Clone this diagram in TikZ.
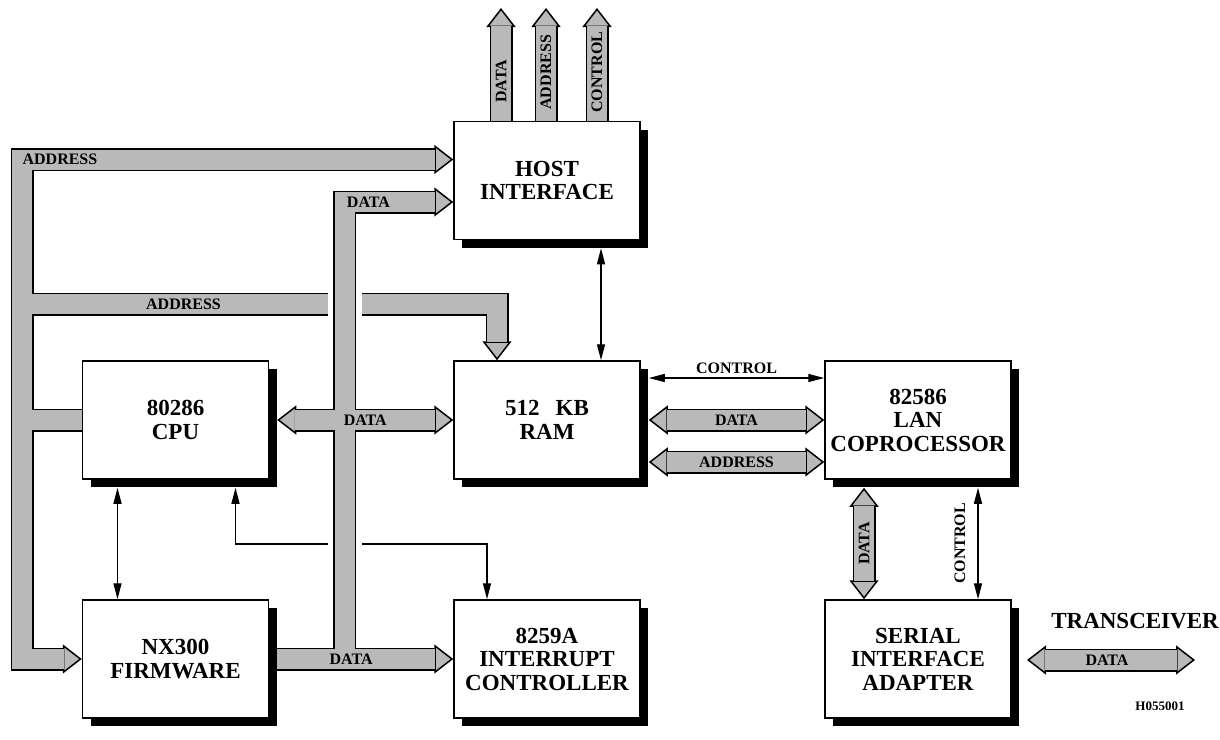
\documentclass[tikz,border=0pt]{standalone}
\usepackage{fontspec}
\setmainfont{Liberation Serif}
\newfontfamily\boxfont{Liberation Serif}
\usetikzlibrary{arrows.meta,shadows,backgrounds,positioning}
\definecolor{busgray}{RGB}{185,185,185}

\begin{document}
\begin{tikzpicture}[x=0.5pt,y=-0.5pt,
  blk/.style={draw,fill=white,line width=0.75pt,minimum width=93pt,minimum height=59pt,
    inner sep=0pt,align=center,font=\boxfont\bfseries\fontsize{11.5}{11.75}\selectfont,
    drop shadow={shadow xshift=4pt,shadow yshift=-4pt,opacity=1,fill=black}},
  bh/.tip={Triangle[length=9.5pt 0 0,width=14.5pt 0 0,line width=0.75pt 0 0,fill=busgray]},
  tri/.tip={Triangle[length=8pt 0 0,width=4pt 0 0]},
  bus/.style={draw=black,line width=11.5pt},
  busin/.style={draw=busgray,line width=10pt},
  gap/.style={draw=white,line width=17pt},
  sig/.style={line width=0.7pt,tri-tri},
  lbl/.style={font=\fontsize{8}{8}\selectfont\bfseries,inner sep=0pt}]

  \useasboundingbox (0,0) rectangle (1220,739);

  \node[blk] (host) at (547,180.5) {HOST\\INTERFACE};
  \node[blk] (ram) at (547,420) {512\hspace{0.7em}KB\\RAM};
  \node[blk] (cpu) at (175.5,420) {80286\\CPU};
  \node[blk] (fw) at (175.5,659) {NX300\\FIRMWARE};
  \node[blk] (intc) at (547,659) {8259A\\INTERRUPT\\CONTROLLER};
  \node[blk] (lan) at (918,420) {82586\\LAN\\COPROCESSOR};
  \node[blk] (sia) at (918,659) {SERIAL\\INTERFACE\\ADAPTER};

  \coordinate (abus) at (22,159.5);
  \coordinate (a2) at (497,304);
  \coordinate (dtop) at (344.5,202);
  \coordinate (irq) at (487,544);
  \coordinate (outD) at (501,8);
  \coordinate (outA) at (546,8);
  \coordinate (outC) at (597,8);
  \coordinate (xcvl) at (1027,660);
  \coordinate (xcvr) at (1195,660);

  \begin{scope}[on background layer]
  % address buses
  \draw[bus,bh-bh] (fw.west) -- (abus |- fw) -- (abus) -- (host.west |- abus);
  \draw[bus,-bh] (abus |- a2) -- (a2) -- (a2 |- ram.north);
  \draw[bus] (abus |- cpu) -- (cpu.west);
  \draw[busin,shorten <=9pt,shorten >=9pt] (fw.west) -- (abus |- fw) -- (abus)
    -- node[lbl,pos=.088] (la1) {ADDRESS} (host.west |- abus);
  \draw[busin,shorten >=9pt] (abus |- a2) -- node[lbl,pos=.34] (la2) {ADDRESS} (a2) -- (a2 |- ram.north);
  \draw[busin] (abus |- cpu) -- (cpu.west);

  \draw[sig] ([xshift=30pt,yshift=-4pt]cpu.south) |- (irq) -- (irq |- intc.north);

  % white gaps where the data bus passes over
  \draw[gap] (dtop) -- (dtop |- fw);

  % data buses
  \draw[bus,-bh] (dtop |- fw) -- (dtop) -- (host.west |- dtop);
  \draw[bus,-bh] ([xshift=4pt]fw.east) -- (intc.west);
  \draw[bus,bh-bh] ([xshift=4pt]cpu.east) -- (ram.west);
  \draw[busin,shorten >=9pt] (dtop |- fw) -- (dtop) -- node[lbl,pos=.22] (ld1) {DATA} (host.west |- dtop);
  \draw[busin,shorten >=9pt] ([xshift=4pt]fw.east) -- node[lbl,pos=.42] (ld2) {DATA} (intc.west);
  \draw[busin,shorten <=9pt,shorten >=9pt] ([xshift=4pt]cpu.east) -- node[lbl] (ld3) {DATA} (ram.west);

  % host outputs
  \foreach \c/\t/\p in {outD/DATA/.35,outA/ADDRESS/.43,outC/CONTROL/.43} {
    \draw[bus,-bh] (\c |- host.north) -- (\c);
    \draw[busin,shorten >=9pt] (\c |- host.north) -- node[lbl,rotate=90,pos=\p] (o-\t) {\t} (\c);
  }

  % lan side
  \draw[bus,bh-bh] ([xshift=4pt]ram.east) -- (lan.west);
  \draw[bus,bh-bh] ([xshift=4pt,yshift=-21pt]ram.east) -- ([yshift=-21pt]lan.west);
  \draw[bus,bh-bh] ([xshift=-27pt,yshift=-4pt]lan.south) -- ([xshift=-27pt]sia.north);
  \draw[bus,bh-bh] (xcvl) -- (xcvr);
  \draw[busin,shorten <=9pt,shorten >=9pt] ([xshift=4pt]ram.east) -- node[lbl] (ld4) {DATA} (lan.west);
  \draw[busin,shorten <=9pt,shorten >=9pt] ([xshift=4pt,yshift=-21pt]ram.east)
    -- node[lbl] (la3) {ADDRESS} ([yshift=-21pt]lan.west);
  \draw[busin,shorten <=9pt,shorten >=9pt] ([xshift=-27pt,yshift=-4pt]lan.south)
    -- node[lbl,rotate=90] (ld5) {DATA} ([xshift=-27pt]sia.north);
  \draw[busin,shorten <=9pt,shorten >=9pt] (xcvl) -- node[lbl,pos=.476] (ld6) {DATA} (xcvr);
  \end{scope}

  % control lines
  \draw[sig] ([xshift=27pt,yshift=-4pt]host.south) -- ([xshift=27pt]ram.north);
  \draw[sig] ([xshift=-29pt,yshift=-4pt]cpu.south) -- ([xshift=-29pt]fw.north);
  \draw[sig] ([xshift=4pt,yshift=21pt]ram.east) -- node[lbl,above=2pt] (lc1) {CONTROL} ([yshift=21pt]lan.west);
  \draw[sig] ([xshift=30pt,yshift=-4pt]lan.south)
    -- node[lbl,rotate=90,anchor=south,inner sep=6pt] (lc2) {CONTROL} ([xshift=30pt]sia.north);

  \node[font=\boxfont\bfseries\fontsize{11.5}{12}\selectfont] (xcv) at (1135,621) {TRANSCEIVER};
  \node[font=\fontsize{6.5}{6.5}\selectfont\bfseries] (fig) at (1160,706) {H055001};
\end{tikzpicture}
\end{document}
